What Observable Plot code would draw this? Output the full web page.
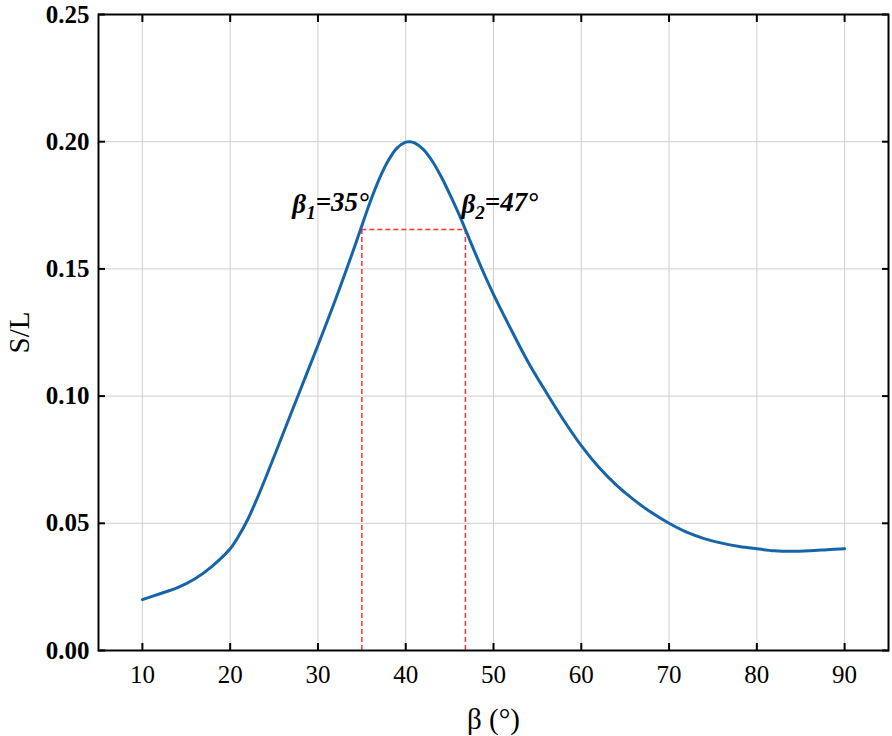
<!DOCTYPE html>
<html><head><meta charset="utf-8">
<script src="https://cdn.jsdelivr.net/npm/d3@7"></script>
<script src="https://cdn.jsdelivr.net/npm/@observablehq/plot@0.6"></script>
<style>
body{margin:0;background:#fff}
#chart svg g[aria-label="x-axis label"], #chart svg g[aria-label="y-axis label"]{font-size:29px;font-weight:normal}
</style>
</head><body><div id="chart"></div>
<script>
const beta  = [10, 12, 14, 16, 18, 20, 21, 22, 23, 24, 26, 28, 30, 32, 34, 35, 36, 37, 38, 39, 40, 40.5, 41, 42, 43, 44, 45, 46, 47, 48, 49, 50, 52, 54, 56, 58, 60, 62, 64, 66, 68, 70, 72, 74, 76, 78, 80, 82, 84, 86, 88, 90];
const ratio = [0.020, 0.0223, 0.0247, 0.0282, 0.0333, 0.040, 0.0452, 0.0515, 0.0592, 0.0675, 0.085, 0.1025, 0.120, 0.138, 0.157, 0.167, 0.1768, 0.1855, 0.1925, 0.1975, 0.1998, 0.2, 0.1995, 0.197, 0.1925, 0.1865, 0.1795, 0.172, 0.1638, 0.1555, 0.1475, 0.140, 0.1262, 0.113, 0.1015, 0.0905, 0.0805, 0.072, 0.065, 0.0592, 0.0542, 0.050, 0.0465, 0.044, 0.0422, 0.0409, 0.040, 0.0392, 0.039, 0.0392, 0.0396, 0.040];
const xTicks = [10, 20, 30, 40, 50, 60, 70, 80, 90];
const yTicks = [0, 0.05, 0.10, 0.15, 0.20, 0.25];
const markBeta = [35, 46.8];
const markLevel = 0.1655;
const markSub = ["1", "2"];
const markText = ["=35°", "=47°"];

const curve = beta.map((b, i) => ({b, r: ratio[i]}));
const marks = markBeta.map((b, i) => ({b, r: markLevel, sub: markSub[i], txt: markText[i]}));

const annoStyle = {x: "b", y: "r", text: d => "β" + d.sub + d.txt, dy: -16, lineAnchor: "bottom", fontSize: 27, fontWeight: "bold", fontStyle: "italic"};
const guideStyle = {stroke: "#ff3030", strokeWidth: 1.5, strokeDasharray: "5,3"};

const plot = Plot.plot({
  width: 892, height: 736,
  marginLeft: 98, marginRight: 4, marginTop: 14, marginBottom: 86,
  style: {fontFamily: "'Liberation Serif', serif", fontSize: "25px", background: "#fff", color: "#000"},
  x: {domain: [5, 95]},
  y: {domain: [0, 0.25]},
  marks: [
    Plot.gridX(xTicks, {stroke: "#cfcfcf", strokeOpacity: 1, strokeWidth: 1}),
    Plot.gridY(yTicks, {stroke: "#cfcfcf", strokeOpacity: 1, strokeWidth: 1}),
    Plot.ruleX(marks, {x: "b", y1: 0, y2: "r", ...guideStyle}),
    Plot.ruleY([marks[0]], {y: "r", x1: markBeta[0], x2: markBeta[1], ...guideStyle}),
    Plot.line(curve, {x: "b", y: "r", stroke: "#1565a8", strokeWidth: 3, curve: "catmull-rom"}),
    Plot.text(marks, {...annoStyle, filter: (d, i) => i === 0, textAnchor: "end", dx: 7, className: "anno"}),
    Plot.text(marks, {...annoStyle, filter: (d, i) => i === 1, textAnchor: "start", dx: -4, className: "anno"}),
    Plot.frame({stroke: "#000", strokeWidth: 2}),
    Plot.axisX(xTicks, {anchor: "bottom", tickSize: -7, tickPadding: 22, strokeWidth: 2, label: "β (°)", labelAnchor: "center", labelOffset: 78, labelArrow: "none"}),
    Plot.axisX(xTicks, {anchor: "top", tickSize: -7, strokeWidth: 2, tickFormat: () => "", label: null}),
    Plot.axisY(yTicks, {anchor: "left", tickSize: -7, tickPadding: 16, strokeWidth: 2, tickFormat: d3.format(".2f"), fontWeight: "bold", label: "S/L", labelAnchor: "center", labelOffset: 90, labelArrow: "none"}),
    Plot.axisY(yTicks, {anchor: "right", tickSize: -7, strokeWidth: 2, tickFormat: () => "", label: null})
  ]
});
document.getElementById("chart").appendChild(plot);

// render subscripts in annotation labels
d3.select(plot).selectAll("g.anno text").each(function() {
  const s = this.textContent;           // e.g. "β1=35°"
  const t = d3.select(this);
  t.text(null);
  t.append("tspan").text(s.slice(0, 1));
  t.append("tspan").attr("font-size", "19px").attr("dy", "0.3em").text(s.slice(1, 2));
  t.append("tspan").attr("dy", "-0.3em").text(s.slice(2));
});
</script>
</body></html>
